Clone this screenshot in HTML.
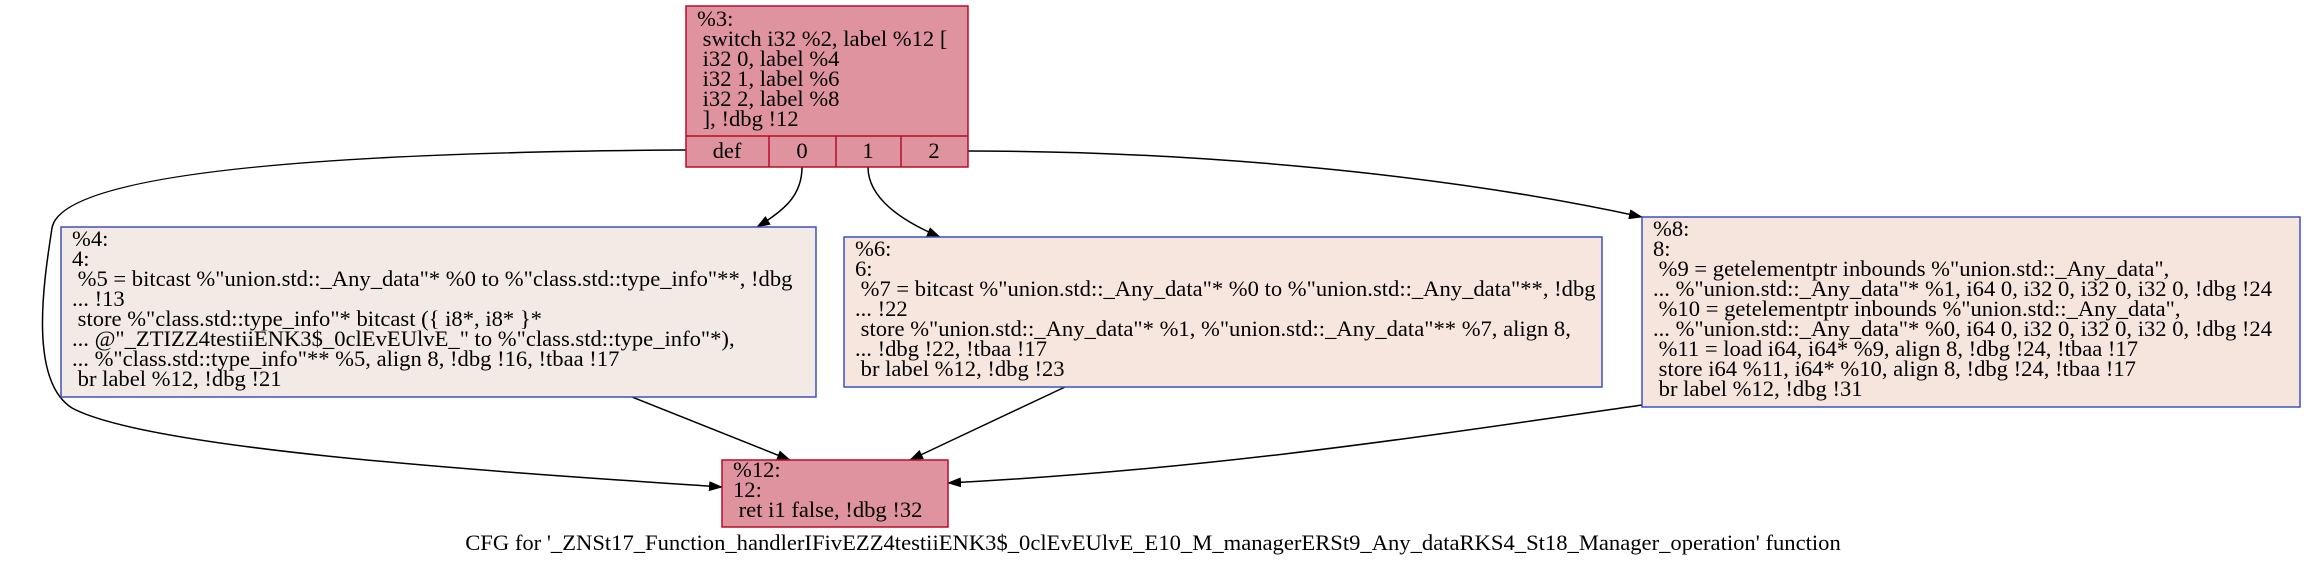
<!DOCTYPE html>
<html><head><meta charset="utf-8"><style>
html,body{margin:0;padding:0;background:#fff}
svg{display:block}
text{font-family:"Liberation Serif",serif;font-size:22.6px;fill:#000}
</style></head><body>
<svg width="2306" height="564" viewBox="0 0 2306 564">
<defs><marker id="ah" markerWidth="14" markerHeight="10" refX="13" refY="5" orient="auto" markerUnits="userSpaceOnUse"><path d="M0,0 L14,5 L0,10 z" fill="#000"/></marker></defs>

<g fill="none" stroke="#000" stroke-width="1.5">
<path marker-end="url(#ah)" d="M686,150 C350,152 62,170 52,228 C44,280 28,380 72,408 C150,450 500,472 722,487"/>
<path marker-end="url(#ah)" d="M802,167 C802,195 785,210 757,227"/>
<path marker-end="url(#ah)" d="M868,167 C868,195 895,218 940,237"/>
<path marker-end="url(#ah)" d="M968,151 C1200,151 1450,175 1642,217"/>
<path marker-end="url(#ah)" d="M632,397 L790,460"/>
<path marker-end="url(#ah)" d="M1065,387 L910,460"/>
<path marker-end="url(#ah)" d="M1642,405 C1400,440 1200,470 948,483"/>
</g>

<g>
<rect x="686" y="6" width="282" height="161" fill="#de939e" stroke="#b70d28" stroke-width="1.5"/>
<line x1="686" y1="136" x2="968" y2="136" stroke="#b70d28" stroke-width="1.5"/>
<line x1="769" y1="136" x2="769" y2="167" stroke="#b70d28" stroke-width="1.5"/>
<line x1="836" y1="136" x2="836" y2="167" stroke="#b70d28" stroke-width="1.5"/>
<line x1="901" y1="136" x2="901" y2="167" stroke="#b70d28" stroke-width="1.5"/>
<text x="697" y="26">%3:</text>
<text x="697" y="46" xml:space="preserve"> switch i32 %2, label %12 [</text>
<text x="697" y="66" xml:space="preserve"> i32 0, label %4</text>
<text x="697" y="86" xml:space="preserve"> i32 1, label %6</text>
<text x="697" y="106" xml:space="preserve"> i32 2, label %8</text>
<text x="697" y="126" xml:space="preserve"> ], !dbg !12</text>
<text x="727" y="158" text-anchor="middle">def</text>
<text x="802" y="158" text-anchor="middle">0</text>
<text x="868" y="158" text-anchor="middle">1</text>
<text x="934" y="158" text-anchor="middle">2</text>
</g>

<g>
<rect x="61" y="227" width="755" height="170" fill="#f4eae5" stroke="#3d50c3" stroke-width="1.5"/>
<text x="72" y="246">%4:</text>
<text x="72" y="266">4:</text>
<text x="72" y="286" xml:space="preserve"> %5 = bitcast %"union.std::_Any_data"* %0 to %"class.std::type_info"**, !dbg</text>
<text x="72" y="306" xml:space="preserve">... !13</text>
<text x="72" y="326" xml:space="preserve"> store %"class.std::type_info"* bitcast ({ i8*, i8* }*</text>
<text x="72" y="346" xml:space="preserve">... @"_ZTIZZ4testiiENK3$_0clEvEUlvE_" to %"class.std::type_info"*),</text>
<text x="72" y="366" xml:space="preserve">... %"class.std::type_info"** %5, align 8, !dbg !16, !tbaa !17</text>
<text x="72" y="386" xml:space="preserve"> br label %12, !dbg !21</text>
</g>

<g>
<rect x="844" y="237" width="758" height="150" fill="#f6e6de" stroke="#3d50c3" stroke-width="1.5"/>
<text x="855" y="256">%6:</text>
<text x="855" y="276">6:</text>
<text x="855" y="296" xml:space="preserve"> %7 = bitcast %"union.std::_Any_data"* %0 to %"union.std::_Any_data"**, !dbg</text>
<text x="855" y="316" xml:space="preserve">... !22</text>
<text x="855" y="336" xml:space="preserve"> store %"union.std::_Any_data"* %1, %"union.std::_Any_data"** %7, align 8,</text>
<text x="855" y="356" xml:space="preserve">... !dbg !22, !tbaa !17</text>
<text x="855" y="376" xml:space="preserve"> br label %12, !dbg !23</text>
</g>

<g>
<rect x="1642" y="217" width="658" height="190" fill="#f6e5dc" stroke="#3d50c3" stroke-width="1.5"/>
<text x="1653" y="236">%8:</text>
<text x="1653" y="256">8:</text>
<text x="1653" y="276" xml:space="preserve"> %9 = getelementptr inbounds %"union.std::_Any_data",</text>
<text x="1653" y="296" xml:space="preserve">... %"union.std::_Any_data"* %1, i64 0, i32 0, i32 0, i32 0, !dbg !24</text>
<text x="1653" y="316" xml:space="preserve"> %10 = getelementptr inbounds %"union.std::_Any_data",</text>
<text x="1653" y="336" xml:space="preserve">... %"union.std::_Any_data"* %0, i64 0, i32 0, i32 0, i32 0, !dbg !24</text>
<text x="1653" y="356" xml:space="preserve"> %11 = load i64, i64* %9, align 8, !dbg !24, !tbaa !17</text>
<text x="1653" y="376" xml:space="preserve"> store i64 %11, i64* %10, align 8, !dbg !24, !tbaa !17</text>
<text x="1653" y="396" xml:space="preserve"> br label %12, !dbg !31</text>
</g>

<g>
<rect x="722" y="460" width="226" height="67" fill="#de939e" stroke="#b70d28" stroke-width="1.5"/>
<text x="733" y="477">%12:</text>
<text x="733" y="497">12:</text>
<text x="733" y="517" xml:space="preserve"> ret i1 false, !dbg !32</text>
</g>

<text x="1153" y="550" text-anchor="middle">CFG for '_ZNSt17_Function_handlerIFivEZZ4testiiENK3$_0clEvEUlvE_E10_M_managerERSt9_Any_dataRKS4_St18_Manager_operation' function</text>
</svg>
</body></html>
